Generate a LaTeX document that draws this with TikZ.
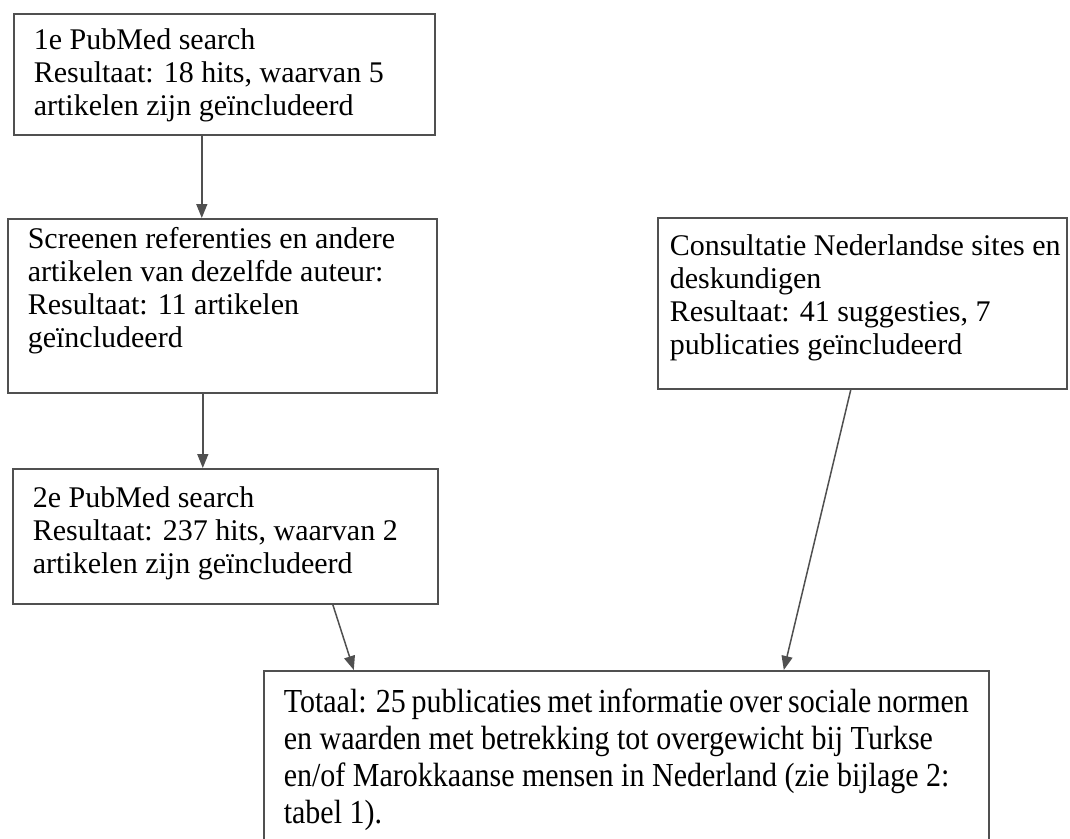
\documentclass[tikz,border=0pt]{standalone}
\usepackage{fontspec}
\setmainfont{Liberation Serif}
\newfontfamily\smalletter[FakeStretch=0.893]{Liberation Serif}
\usepackage{xcolor}
\usepackage{tikz}
\usetikzlibrary{arrows.meta}

\definecolor{lijn}{RGB}{80,80,80}
\newcommand{\staptekst}[3]{\parbox[t][#2][t]{#1}{\strut #3}}

\begin{document}
\begin{tikzpicture}[x=1pt, y=-1pt, >={Triangle[length=14pt, width=11pt]},
    stapbox/.style={draw=lijn, line width=1.6pt, anchor=north west, inner xsep=20pt,
        font=\fontsize{30}{33}\selectfont},
    pijl/.style={->, draw=lijn, fill=lijn, line width=1.5pt}]
    \useasboundingbox (0,0) rectangle (1070,838);

    % Linker kolom: zoekstappen
    \node[stapbox, inner ysep=13pt] (pubmed1) at (13,13)
        {\staptekst{381pt}{95pt}{1e PubMed search\\
        Resultaat: 18 hits, waarvan 5\\
        artikelen zijn geïncludeerd}};
    \node[stapbox, inner ysep=7pt] (screenen) at (7,218)
        {\staptekst{389pt}{160pt}{Screenen referenties en andere\\
        artikelen van dezelfde auteur:\\
        Resultaat: 11 artikelen\\
        geïncludeerd}};
    \node[stapbox, inner ysep=16pt] (pubmed2) at (12,468)
        {\staptekst{385pt}{103pt}{2e PubMed search\\
        Resultaat: 237 hits, waarvan 2\\
        artikelen zijn geïncludeerd}};

    % Rechter kolom: consultatie
    \node[stapbox, inner xsep=12pt, inner ysep=15pt] (consult) at (657,217)
        {\staptekst{385pt}{141pt}{\mbox{Consultatie Nederlandse sites en}\\
        deskundigen\\
        Resultaat: 41 suggesties, 7\\
        publicaties geïncludeerd}};

    % Totaal
    \node[stapbox, inner ysep=16pt, font={\smalletter\fontsize{33.6}{37}\selectfont}] (totaal) at (263,670)
        {\staptekst{685pt}{200pt}{Totaal: 25 publicaties met informatie over sociale normen\\
        en waarden met betrekking tot overgewicht bij Turkse\\
        en/of Marokkaanse mensen in Nederland (zie bijlage 2:\\
        tabel 1).}};

    % Pijlen
    \draw[pijl] ([xshift=-22.5pt]pubmed1.south) -- ([xshift=-20.5pt]screenen.north);
    \draw[pijl] ([xshift=-19.5pt]screenen.south) -- ([xshift=-22.5pt]pubmed2.north);
    \draw[pijl] ([xshift=107.5pt]pubmed2.south) -- ([xshift=-272.5pt]totaal.north);
    \draw[pijl] ([xshift=-11.5pt]consult.south) -- ([xshift=157.5pt]totaal.north);
\end{tikzpicture}
\end{document}
